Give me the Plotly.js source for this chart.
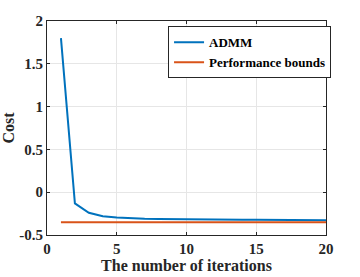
<!DOCTYPE html>
<html><head><meta charset="utf-8">
<script src="https://cdn.plot.ly/plotly-3.0.1.min.js"></script>
<style>html,body{margin:0;padding:0;background:#fff}#c{width:360px;height:277px}</style>
</head><body><div id="c"></div>
<script>
var iterations = [1,2,3,4,5,6,7,8,9,10,11,12,13,14,15,16,17,18,19,20];
var admmCost = [1.80,-0.13,-0.24,-0.28,-0.295,-0.305,-0.31,-0.312,-0.315,-0.317,-0.318,-0.32,-0.321,-0.322,-0.323,-0.324,-0.325,-0.326,-0.327,-0.328];
var boundCost = [-0.35,-0.35,-0.35,-0.35,-0.35,-0.35,-0.35,-0.35,-0.35,-0.35,-0.35,-0.35,-0.35,-0.35,-0.35,-0.35,-0.35,-0.35,-0.35,-0.35];
var seriesNames = ['ADMM','Performance bounds'];
var F = '"Liberation Serif", "Times New Roman", serif';
var traces = [
  {x: iterations, y: admmCost, name: seriesNames[0], mode: 'lines', line: {color: '#0072BD', width: 2}},
  {x: iterations, y: boundCost, name: seriesNames[1], mode: 'lines', line: {color: '#D95319', width: 2}}
];
function axisCommon() {
  return {
    showline: true, mirror: 'ticks', linecolor: '#262626', linewidth: 1,
    ticks: 'inside', ticklen: 3, tickcolor: '#262626',
    showgrid: true, gridcolor: '#e6e6e6', gridwidth: 1, zeroline: false,
    tickfont: {family: F, size: 15, color: '#262626', weight: 'bold'}
  };
}
var layout = {
  width: 360, height: 277,
  font: {family: F, size: 15, color: '#262626', weight: 'bold'},
  margin: {l: 47, r: 34, t: 21, b: 42},
  paper_bgcolor: '#fff', plot_bgcolor: '#fff',
  showlegend: true,
  legend: {x: 0.726, y: 0.975, xanchor: 'center', yanchor: 'top',
    bgcolor: '#fff', bordercolor: '#262626', borderwidth: 1,
    font: {family: F, size: 13, color: '#000', weight: 'bold'},
    tracegroupgap: 0, itemwidth: 30},
  xaxis: Object.assign(axisCommon(), {range: [0, 20], tickvals: [0,5,10,15,20],
    title: {text: 'The number of iterations', font: {family: F, size: 16, color: '#262626', weight: 'bold'}, standoff: 2}}),
  yaxis: Object.assign(axisCommon(), {range: [-0.5, 2], tickvals: [-0.5,0,0.5,1,1.5,2],
    ticktext: ['-0.5','0','0.5','1','1.5','2'],
    title: {text: 'Cost', font: {family: F, size: 16, color: '#262626', weight: 'bold'}, standoff: 4}})
};
Plotly.newPlot('c', traces, layout, {displayModeBar: false, staticPlot: true});
</script></body></html>
